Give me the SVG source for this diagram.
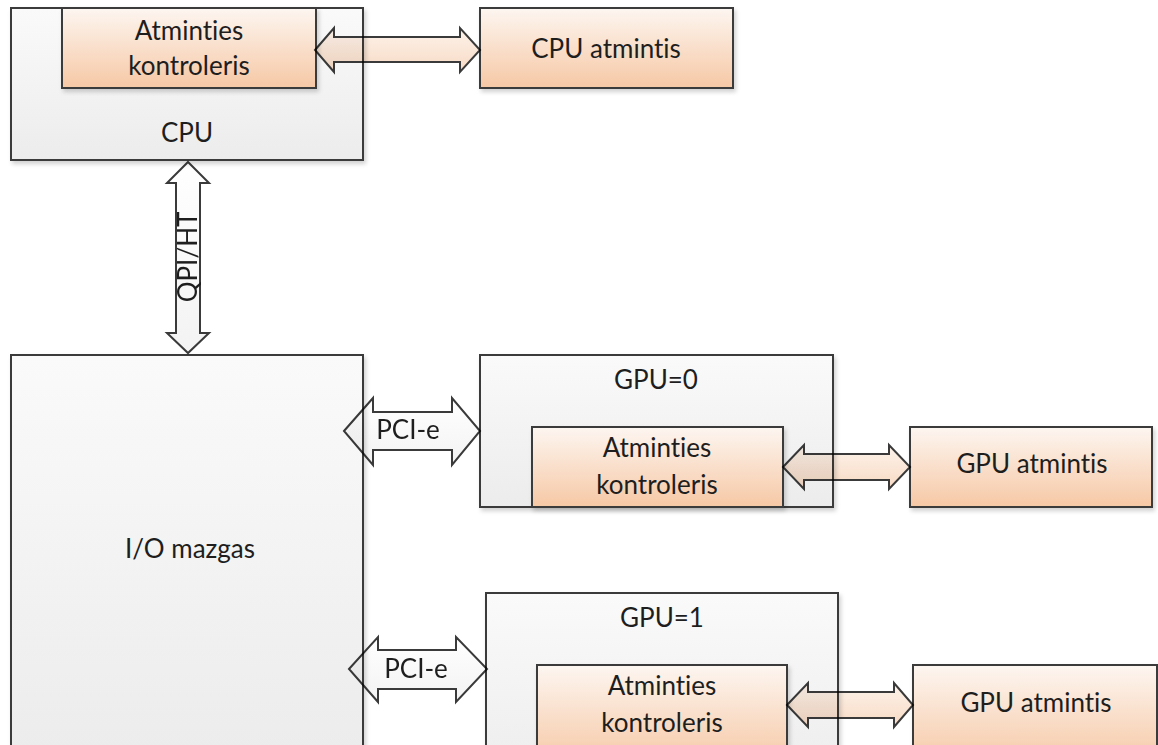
<svg xmlns="http://www.w3.org/2000/svg" width="1158" height="745" viewBox="0 0 1158 745">
  <defs>
    <linearGradient id="grayFill" x1="0" y1="0" x2="0" y2="1">
      <stop offset="0" stop-color="#fafafa"/>
      <stop offset="1" stop-color="#ececec"/>
    </linearGradient>
    <linearGradient id="peachFill" x1="0" y1="0" x2="0" y2="1">
      <stop offset="0" stop-color="#fdf6f1"/>
      <stop offset="1" stop-color="#f6c8a5"/>
    </linearGradient>
    <linearGradient id="arrowPeach" x1="0" y1="0" x2="0" y2="1">
      <stop offset="0" stop-color="#fdf3eb"/>
      <stop offset="1" stop-color="#f8dac4"/>
    </linearGradient>
    <linearGradient id="arrowWhite" x1="0" y1="0" x2="0" y2="1">
      <stop offset="0" stop-color="#ffffff"/>
      <stop offset="1" stop-color="#f3f3f3"/>
    </linearGradient>
    <filter id="shadow" x="-5%" y="-5%" width="115%" height="115%">
      <feDropShadow dx="2" dy="3" stdDeviation="2" flood-color="#000" flood-opacity="0.18"/>
    </filter>
  </defs>
  <style>
    .box { fill: url(#grayFill); stroke: #3a3a3a; stroke-width: 2; filter: url(#shadow); }
    .mem { fill: url(#peachFill); stroke: #3a3a3a; stroke-width: 2; filter: url(#shadow); }
    .lbl { font-family: Lato, "Liberation Sans", sans-serif; font-size: 26px; fill: #1e1e1e; text-anchor: middle; font-variant-ligatures: none; }
    .conn { mix-blend-mode: multiply; }
    .arrow { stroke: #3a3a3a; stroke-width: 2; stroke-linejoin: miter; }
    .peach { fill: url(#arrowPeach); }
    .white { fill: url(#arrowWhite); }
  </style>

  <rect width="1158" height="745" fill="#ffffff"/>

  <!-- CPU package with its memory controller -->
  <g id="cpu">
    <rect class="box" x="11" y="8" width="352" height="152"/>
    <text class="lbl" x="187" y="142">CPU</text>
  </g>
  <g id="cpu-memctrl">
    <rect class="mem" x="62" y="8" width="254" height="80"/>
    <text class="lbl" x="189" y="40">Atminties</text>
    <text class="lbl" x="189" y="75">kontroleris</text>
  </g>
  <g id="cpu-mem">
    <rect class="mem" x="480" y="8" width="253" height="80"/>
    <text class="lbl" x="606" y="58">CPU atmintis</text>
  </g>

  <!-- I/O hub -->
  <g id="io-hub">
    <rect class="box" x="11" y="355" width="352" height="400"/>
    <text class="lbl" x="190" y="558">I/O mazgas</text>
  </g>

  <!-- GPU 0 -->
  <g id="gpu0">
    <rect class="box" x="480" y="355" width="353" height="152"/>
    <text class="lbl" x="656" y="389">GPU=0</text>
  </g>
  <g id="gpu0-memctrl">
    <rect class="mem" x="532" y="427" width="251" height="80"/>
    <text class="lbl" x="657" y="457">Atminties</text>
    <text class="lbl" x="657" y="494">kontroleris</text>
  </g>
  <g id="gpu0-mem">
    <rect class="mem" x="910" y="427" width="242" height="80"/>
    <text class="lbl" x="1032" y="473">GPU atmintis</text>
  </g>

  <!-- GPU 1 -->
  <g id="gpu1">
    <rect class="box" x="486" y="593" width="352" height="200"/>
    <text class="lbl" x="662" y="627">GPU=1</text>
  </g>
  <g id="gpu1-memctrl">
    <rect class="mem" x="537" y="665" width="250" height="100"/>
    <text class="lbl" x="662" y="695">Atminties</text>
    <text class="lbl" x="662" y="732">kontroleris</text>
  </g>
  <g id="gpu1-mem">
    <rect class="mem" x="913" y="665" width="244" height="100"/>
    <text class="lbl" x="1036" y="712">GPU atmintis</text>
  </g>

  <!-- Block arrows between the units -->
  <g id="connectors" class="conn">
    <path class="arrow peach" d="M315,50 L334,28 L334,37 L460,37 L460,28 L480,50 L460,72 L460,62 L334,62 L334,72 Z"/>
    <g id="qpi">
      <path class="arrow white" d="M188,162 L209,183 L200,183 L200,333 L209,333 L188,353 L167,333 L176,333 L176,183 L167,183 Z"/>
      <text class="lbl" transform="translate(197,257) rotate(-90)" x="0" y="0">QPI/HT</text>
    </g>
    <g id="pcie0">
      <path class="arrow white" d="M344,431 L373,398 L373,412 L452,412 L452,398 L480,431 L452,465 L452,450 L373,450 L373,465 Z"/>
      <text class="lbl" x="408" y="439">PCI-e</text>
    </g>
    <path class="arrow peach" d="M783,467 L804,445 L804,454 L889,454 L889,445 L910,467 L889,489 L889,480 L804,480 L804,489 Z"/>
    <g id="pcie1">
      <path class="arrow white" d="M349,669 L378,637 L378,650 L456,650 L456,637 L487,669 L456,702 L456,689 L378,689 L378,702 Z"/>
      <text class="lbl" x="416" y="678">PCI-e</text>
    </g>
    <path class="arrow peach" d="M787,705 L808,683 L808,692 L894,692 L894,683 L913,705 L894,727 L894,718 L808,718 L808,727 Z"/>
  </g>
</svg>
